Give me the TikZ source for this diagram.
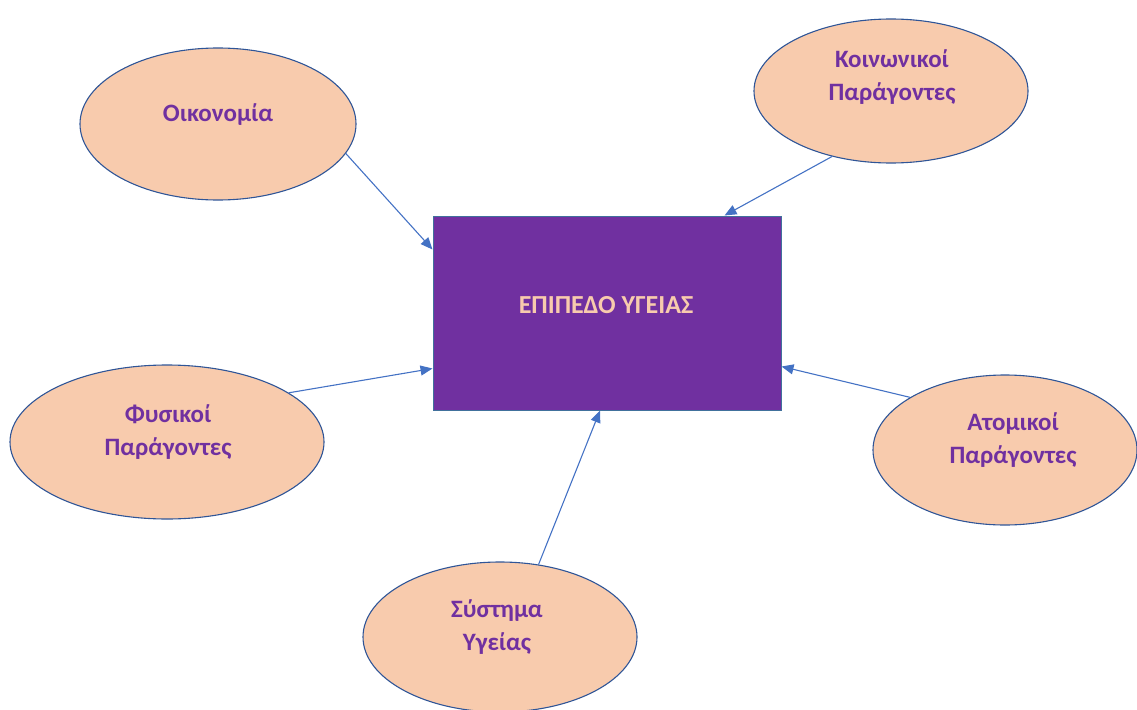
\documentclass[tikz,border=0pt]{standalone}
\usepackage{fontspec}
\setmainfont{Carlito}
\usetikzlibrary{shapes.geometric,arrows.meta}
\definecolor{peach}{HTML}{F8CBAD}
\definecolor{violet}{HTML}{7030A0}
\definecolor{edgeblue}{HTML}{2F5597}
\definecolor{arrowblue}{HTML}{4472C4}
\definecolor{boxedge}{HTML}{41719C}
\tikzset{
  bubble/.style={ellipse, draw=edgeblue, line width=1.1pt, fill=peach, inner sep=0pt},
  bubbletext/.style={text=violet, font=\fontsize{25}{33}\selectfont\bfseries, align=center, inner sep=0pt},
  mainbox/.style={draw=boxedge, line width=1pt, fill=violet, inner sep=0pt},
  conn/.style={draw=arrowblue, line width=1.1pt, -{Triangle[length=12pt,width=10pt]}}
}
\begin{document}
\begin{tikzpicture}[x=1pt,y=-1pt]
\useasboundingbox (0,0) rectangle (1137,709);
\node[mainbox, minimum width=348pt, minimum height=194pt] (box) at (607,313) {};
\node[text=peach, font=\fontsize{26}{30}\selectfont\bfseries, inner sep=0pt] (boxtext) at (606,305) {ΕΠΙΠΕΔΟ ΥΓΕΙΑΣ};

\node[bubble, minimum width=276pt, minimum height=152pt] (oik) at (218,124) {};
\node[bubbletext] (oikt) at (218,115) {Οικονομία};

\node[bubble, minimum width=274pt, minimum height=144pt] (koin) at (891,91) {};
\node[bubbletext] (koint) at (892,77) {Κοινωνικοί\\Παράγοντες};

\node[bubble, minimum width=314pt, minimum height=154pt] (fys) at (167,442) {};
\node[bubbletext] (fyst) at (168,432) {Φυσικοί\\Παράγοντες};

\node[bubble, minimum width=264pt, minimum height=150pt] (atom) at (1005,450) {};
\node[bubbletext] (atomt) at (1013,440) {Ατομικοί\\Παράγοντες};

\node[bubble, minimum width=274pt, minimum height=150pt] (syst) at (500,637) {};
\node[bubbletext] (systt) at (497,627) {Σύστημα\\Υγείας};

\coordinate (e1) at ([yshift=-34pt]box.north west);
\coordinate (e2) at ([xshift=-57pt]box.north east);
\coordinate (e3) at ([yshift=42pt]box.south west);
\coordinate (e4) at ([yshift=44pt]box.south east);
\coordinate (e5) at ([xshift=600pt-607pt]box.south);

\draw[conn] (oik.-13) -- (e1);
\draw[conn] (koin.-132) -- (e2);
\draw[conn] (fys.22.5) -- (e3);
\draw[conn] (atom.151.7) -- (e4);
\draw[conn] (syst.62.2) -- (e5);
\end{tikzpicture}
\end{document}
